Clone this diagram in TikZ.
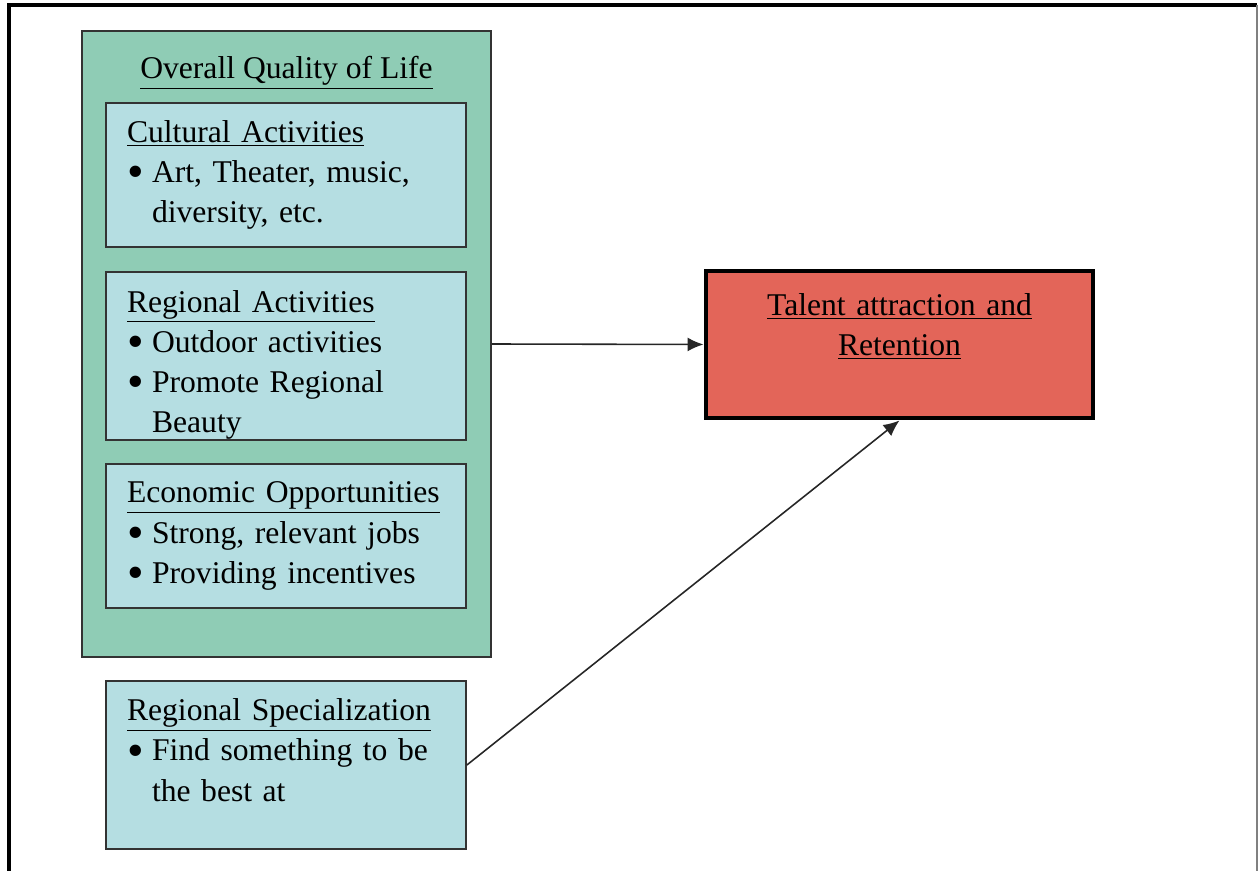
\documentclass[tikz,border=0pt]{standalone}
\usepackage{fontspec}
\setmainfont{Liberation Serif}
\usepackage{xcolor}
\usetikzlibrary{arrows.meta, positioning}

\definecolor{qolgreen}{HTML}{8FCCB5}
\definecolor{itemblue}{HTML}{B5DEE2}
\definecolor{talentred}{HTML}{E36559}
\newcommand{\bul}{\makebox[0.5cm][l]{\raisebox{-0.35ex}{\scalebox{1.5}{\textbullet}}}}
\newcommand{\ind}{\hspace*{0.5cm}}

\begin{document}
\begin{tikzpicture}[
    font=\fontsize{18}{22.8}\selectfont,
    outerbox/.style={draw=black!80, line width=1pt, fill=qolgreen, minimum width=8.18cm, minimum height=12.52cm, inner sep=0},
    itembox/.style={draw=black!80, line width=1pt, fill=itemblue, text width=6.36cm, inner xsep=0.42cm, inner ysep=0, align=left, minimum width=7.2cm},
    goalbox/.style={draw=black, line width=2.8pt, fill=talentred, text width=7.3cm, align=center, minimum width=7.74cm, minimum height=2.94cm, inner sep=0},
    link/.style={draw=black!85, line width=0.9pt, -{Latex[length=3.2mm, width=2.8mm]}}
]
    \useasboundingbox (0,0) rectangle (25.2,-17.42);
    % Page frame
    \draw[line width=2pt] (0.18,-17.42) -- (0.18,-0.1) -- (25.14,-0.1);
    \draw[gray, line width=1pt] (25.14,-0.1) -- (25.14,-17.42);
    % Quality of life group
    \node[outerbox] (qol) at (5.73,-6.88) {};
    \node[below=0.4cm of qol.north] (qoltitle) {\underline{Overall Quality of Life}};
    \node[itembox, minimum height=2.88cm] (cult) at (5.72,-3.5) {\underline{Cultural Activities}\\
        \bul Art, Theater, music,\\ \ind diversity, etc.};
    \node[itembox, minimum height=3.36cm] (reg) at (5.72,-7.12) {\rule{0pt}{0.8cm}\underline{Regional Activities}\\
        \bul Outdoor activities\\ \bul Promote Regional\\ \ind Beauty};
    \node[itembox, minimum height=2.88cm] (econ) at (5.72,-10.72) {\underline{Economic Opportunities}\\
        \bul Strong, relevant jobs\\ \bul Providing incentives};
    % Specialization
    \node[itembox, minimum height=3.36cm] (spec) at (5.72,-15.3) {\underline{Regional Specialization}\\
        \bul Find something to be\\ \ind the best at\\[-0.2cm]\mbox{}};
    % Goal
    \node[goalbox] (talent) at (17.99,-6.89) {\underline{Talent attraction and}\\ \underline{Retention}\\ \mbox{}};
    % Links
    \draw[link] (qol.east) -- (talent.west);
    \draw[link] (spec.east) -- (talent.south);
\end{tikzpicture}
\end{document}
